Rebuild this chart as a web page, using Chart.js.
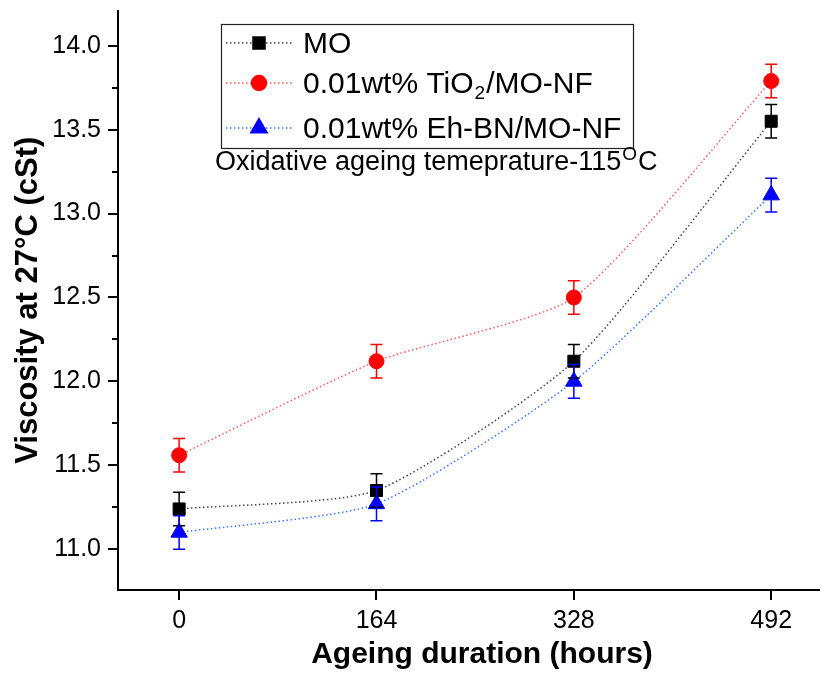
<!DOCTYPE html>
<html>
<head>
<meta charset="utf-8">
<script src="https://cdn.jsdelivr.net/npm/chart.js@4.4.1/dist/chart.umd.min.js"></script>
<style>
  html, body { margin:0; padding:0; background:#fff; overflow:hidden; }
  #wrap { width:829px; height:673px; position:relative; }
</style>
</head>
<body>
<div id="wrap"><canvas id="viscChart"></canvas></div>
<script>
// --- DATA ---
const hours = [0, 164, 328, 492];
const moVisc = [11.24, 11.35, 12.12, 13.55];
const tioVisc = [11.56, 12.12, 12.50, 13.79];
const bnVisc = [11.10, 11.27, 12.00, 13.11];
const moErr = [0.10, 0.10, 0.10, 0.10];
const tioErr = [0.10, 0.10, 0.10, 0.10];
const bnErr = [0.10, 0.10, 0.10, 0.10];
const yMajorTicks = [11.0, 11.5, 12.0, 12.5, 13.0, 13.5, 14.0];
const yMinorTicks = [11.25, 11.75, 12.25, 12.75, 13.25, 13.75];
const xTitle = 'Ageing duration (hours)';

const FONT = "'Liberation Sans', Arial, sans-serif";

const toPoints = (xs, ys) => xs.map((x, i) => ({ x, y: ys[i] }));

function series(label, ys, errs, lineColor, markColor, style, radius, legendParts){
    return {
        label,
        data: toPoints(hours, ys),
        errors: errs,
        legendParts,
        borderColor: lineColor,
        borderWidth: 1.5,
        borderDash: [1.5, 2.5],
        pointStyle: style,
        pointRadius: radius,
        pointHoverRadius: radius,
        pointBackgroundColor: markColor,
        pointBorderColor: markColor,
        pointBorderWidth: 1,
        markColor,
        tension: 0.2,
        fill: false
    };
}

const datasets = [
    series('MO', moVisc, moErr, '#444', '#000', 'rect', 8.5, [['MO', 'n']]),
    series('0.01wt% TiO2/MO-NF', tioVisc, tioErr, '#ff5a5a', '#ff0000', 'circle', 7.5,
        [['0.01wt% TiO', 'n'], ['2', 'sub'], ['/MO-NF', 'n']]),
    series('0.01wt% Eh-BN/MO-NF', bnVisc, bnErr, '#3a78ff', '#0000ff', 'triangle', 9.5,
        [['0.01wt% Eh-BN/MO-NF', 'n']])
];

// --- PLUGINS ---
const errorBars = {
    id: 'errorBars',
    afterDatasetsDraw(chart){
        const { ctx, scales:{ x, y } } = chart;
        ctx.save();
        chart.data.datasets.forEach(ds => {
            ctx.strokeStyle = ds.markColor;
            ctx.lineWidth = 1.5;
            ds.data.forEach((p, i) => {
                const px = x.getPixelForValue(p.x);
                const top = y.getPixelForValue(p.y + ds.errors[i]);
                const bot = y.getPixelForValue(p.y - ds.errors[i]);
                ctx.beginPath();
                ctx.moveTo(px, top); ctx.lineTo(px, bot);
                ctx.moveTo(px - 6, top); ctx.lineTo(px + 6, top);
                ctx.moveTo(px - 6, bot); ctx.lineTo(px + 6, bot);
                ctx.stroke();
            });
        });
        ctx.restore();
    }
};

const minorTicks = {
    id: 'minorTicks',
    afterDraw(chart){
        const { ctx, scales:{ y } } = chart;
        ctx.save();
        ctx.strokeStyle = '#000';
        ctx.lineWidth = 2;
        yMinorTicks.forEach(v => {
            const py = Math.round(y.getPixelForValue(v));
            ctx.beginPath();
            ctx.moveTo(y.right - 6, py); ctx.lineTo(y.right, py);
            ctx.stroke();
        });
        ctx.restore();
    }
};

function drawParts(ctx, parts, x, y, size){
    parts.forEach(([txt, kind]) => {
        if(kind === 'n'){
            ctx.font = `${size}px ${FONT}`;
            ctx.fillText(txt, x, y);
        } else if(kind === 'sub'){
            ctx.font = `${Math.round(size*0.62)}px ${FONT}`;
            ctx.fillText(txt, x + 1, y + size*0.3);
        } else {
            ctx.font = `${Math.round(size*0.72)}px ${FONT}`;
            ctx.fillText(txt, x + 1, y - size*0.38);
        }
        x += ctx.measureText(txt).width + (kind === 'n' ? 0 : 2);
    });
}

const legendBox = {
    id: 'legendBox',
    afterDraw(chart){
        const ctx = chart.ctx;
        ctx.save();
        ctx.strokeStyle = '#222';
        ctx.lineWidth = 1.2;
        ctx.strokeRect(221.5, 24.5, 412, 124);
        const rows = [43, 83, 128];
        chart.data.datasets.forEach((ds, i) => {
            const yy = rows[i];
            ctx.strokeStyle = ds.borderColor;
            ctx.lineWidth = 1.5;
            ctx.setLineDash(ds.borderDash);
            ctx.beginPath(); ctx.moveTo(226, yy); ctx.lineTo(294, yy); ctx.stroke();
            ctx.setLineDash([]);
            ctx.fillStyle = ds.markColor;
            ctx.strokeStyle = ds.markColor;
            Chart.helpers.drawPoint(ctx, {
                pointStyle: ds.pointStyle, radius: ds.pointRadius, rotation: 0, borderWidth: 1
            }, 259, yy);
            ctx.fillStyle = '#000';
            ctx.textBaseline = 'middle';
            drawParts(ctx, ds.legendParts, 303, yy + 2, 30);
        });
        // annotation
        ctx.fillStyle = '#000';
        ctx.textBaseline = 'alphabetic';
        drawParts(ctx, [['Oxidative ageing temeprature-115', 'n'], ['O', 'sup'], ['C', 'n']], 215, 170, 27);
        // x axis title (centred like the original, slightly right of the plot centre)
        ctx.font = `bold 30px ${FONT}`;
        ctx.textAlign = 'center';
        ctx.textBaseline = 'middle';
        ctx.fillText(xTitle, 482, 655);
        ctx.restore();
    }
};

// --- CHART ---
new Chart(document.getElementById('viscChart'), {
    type: 'line',
    data: { datasets },
    plugins: [errorBars, minorTicks, legendBox],
    options: {
        responsive: true,
        maintainAspectRatio: false,
        animation: false,
        layout: { padding: { top: 8, right: 0, left: 0, bottom: 0 } },
        plugins: { legend: { display: false }, tooltip: { enabled: false } },
        scales: {
            x: {
                type: 'linear',
                min: -50.8, max: 531.3,
                afterFit: s => { s.height = 83; s.paddingLeft = 0; s.paddingRight = 0; },
                afterBuildTicks: s => { s.ticks = hours.map(v => ({ value: v })); },
                ticks: { color: '#000', font: { family: FONT, size: 25 }, padding: 6, maxRotation: 0 },
                grid: { drawOnChartArea: false, color: '#000', lineWidth: 2, tickLength: 10 },
                border: { color: '#000', width: 2 }
            },
            y: {
                min: 10.757, max: 14.21,
                afterFit: s => { s.width = 118; s.paddingTop = 0; s.paddingBottom = 0; },
                afterBuildTicks: s => { s.ticks = yMajorTicks.map(v => ({ value: v })); },
                ticks: { color: '#000', font: { family: FONT, size: 25 }, padding: 7,
                         callback: v => v.toFixed(1) },
                grid: { drawOnChartArea: false, color: '#000', lineWidth: 2, tickLength: 10 },
                border: { color: '#000', width: 2 },
                title: { display: true, text: 'Viscosity at 27°C (cSt)', color: '#000',
                         font: { family: FONT, size: 31, weight: 'bold' }, padding: { top: 10 } }
            }
        }
    }
});
</script>
</body>
</html>
